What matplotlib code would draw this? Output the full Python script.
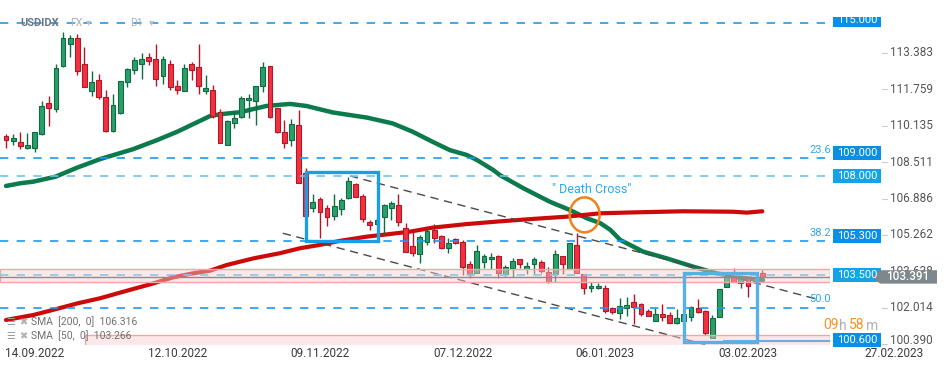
import numpy as np
import matplotlib
matplotlib.use("Agg")
import matplotlib.pyplot as plt
import matplotlib.transforms as mtransforms
from matplotlib.patches import Rectangle, Ellipse, Polygon

plt.rcParams['font.family'] = ['Roboto', 'DejaVu Sans']

# daily candles USDIDX, 08.09.2022 -> 24.02.2023
o = [109.70, 109.47, 109.43, 109.16, 109.14, 109.75, 111.15, 110.88, 112.81, 113.77,
     114.05, 112.91, 111.69, 112.16, 111.43, 109.89, 110.72, 112.08, 112.64, 112.91,
     113.19, 113.11, 112.35, 112.88, 111.93, 111.69, 112.87, 112.78, 111.69, 111.74,
     110.76, 109.29, 110.27, 110.54, 111.27, 111.22, 111.90, 112.82, 110.92, 109.88,
     109.52, 110.17, 108.02, 106.45, 106.87, 106.45, 106.12, 106.41, 106.90, 107.52,
     106.99, 105.83, 105.77, 106.05, 106.48, 106.59, 105.56, 104.77, 104.41, 104.96,
     105.49, 105.22, 104.67, 105.10, 104.94, 103.95, 103.55, 104.04, 104.18, 104.34,
     103.52, 103.78, 104.18, 103.75, 103.96, 104.04, 103.62, 103.52, 104.34, 103.75,
     104.82, 103.51, 102.88, 102.88, 102.88, 101.99, 101.77, 101.99, 102.26, 102.18,
     101.87, 101.44, 101.74, 101.69, 101.32, 101.44, 101.62, 101.99, 101.88, 100.65,
     101.59, 102.96, 103.40, 103.11, 103.33, 103.21, 103.55]
h = [109.79, 109.79, 109.88, 109.82, 109.88, 111.24, 111.48, 112.91, 114.33, 114.20,
     114.23, 113.65, 112.57, 112.43, 111.75, 111.56, 112.15, 112.72, 113.19, 113.38,
     113.38, 113.77, 113.23, 113.06, 112.16, 112.91, 112.99, 113.77, 112.39, 111.96,
     110.88, 110.38, 110.80, 111.45, 111.56, 111.92, 112.99, 112.82, 110.92, 110.39,
     110.42, 110.84, 108.24, 107.08, 106.94, 106.60, 107.09, 106.90, 107.86, 107.57,
     107.08, 105.93, 106.02, 106.65, 106.78, 107.09, 105.78, 105.49, 105.26, 105.53,
     105.75, 105.26, 105.11, 105.13, 105.04, 104.12, 104.80, 104.40, 104.45, 104.37,
     103.92, 104.22, 104.18, 104.06, 104.27, 104.15, 103.85, 104.59, 104.34, 104.89,
     105.34, 103.51, 103.18, 103.11, 103.03, 102.06, 102.46, 102.48, 102.62, 102.24,
     101.95, 101.99, 102.17, 101.84, 101.96, 102.10, 102.10, 102.41, 101.92, 101.69,
     102.84, 103.48, 103.78, 103.40, 103.33, 103.39, 103.70]
l = [109.14, 109.27, 109.11, 109.11, 108.96, 109.73, 110.12, 110.77, 112.76, 113.21,
     112.39, 111.86, 111.48, 111.33, 109.86, 109.86, 110.65, 111.86, 112.46, 112.24,
     112.84, 111.93, 112.01, 111.71, 111.54, 111.69, 112.16, 111.56, 111.57, 110.50,
     109.37, 109.29, 110.04, 110.50, 110.50, 110.17, 111.63, 110.50, 109.82, 109.14,
     109.22, 107.57, 106.12, 106.30, 105.14, 105.66, 105.93, 106.16, 106.87, 106.94,
     105.86, 105.49, 105.71, 105.26, 105.93, 105.68, 104.52, 104.33, 104.03, 104.82,
     104.89, 104.62, 104.45, 104.85, 103.48, 103.36, 103.55, 103.80, 103.75, 103.36,
     103.43, 103.40, 103.78, 103.52, 103.52, 103.55, 103.11, 103.18, 103.52, 103.75,
     103.58, 102.63, 102.73, 102.84, 101.79, 101.72, 101.51, 101.66, 101.28, 101.66,
     101.66, 101.42, 101.44, 101.32, 101.29, 101.44, 101.42, 101.79, 100.80, 100.65,
     101.59, 102.96, 103.18, 102.88, 102.51, 103.12, 103.37]
c = [109.49, 109.58, 109.25, 109.26, 109.84, 111.01, 110.92, 112.73, 114.05, 114.07,
     112.57, 111.86, 112.11, 111.40, 109.89, 111.06, 112.15, 112.66, 113.06, 113.11,
     113.03, 112.24, 113.11, 111.86, 111.74, 112.73, 112.64, 111.90, 111.84, 110.57,
     109.37, 110.33, 110.47, 111.39, 111.37, 111.92, 112.78, 110.54, 109.86, 109.38,
     110.20, 107.60, 106.12, 106.72, 106.30, 106.05, 106.54, 106.82, 107.67, 106.97,
     105.96, 105.70, 105.92, 106.59, 106.68, 105.86, 104.52, 104.45, 105.19, 105.44,
     105.11, 104.70, 104.89, 104.89, 103.85, 103.52, 104.55, 104.34, 104.27, 103.55,
     103.85, 104.10, 103.96, 103.88, 104.18, 103.66, 103.18, 104.40, 103.95, 104.89,
     103.58, 102.88, 102.99, 102.99, 101.88, 101.84, 102.09, 102.14, 102.06, 101.74,
     101.66, 101.74, 101.59, 101.35, 101.55, 101.74, 102.06, 101.84, 100.88, 101.55,
     102.84, 103.40, 103.18, 103.33, 103.00, 103.34, 103.39]

# moving averages (x = candle index)
sma50_x = [0, 2.0, 3.8, 6.9, 10.0, 13.2, 17.8, 21.2, 24.0, 28.6, 30.0, 32.8, 36.5, 39.8,
           42.1, 45.8, 50.6, 54.2, 57.0, 59.8, 62.2, 64.6, 66.0, 68.3, 69.2, 72.5, 76.2,
           79.0, 81.4, 83.3, 84.7, 86.1, 89.3, 92.6, 96.3, 99.6, 102.9, 106.1]
sma50_y = [107.45, 107.57, 107.64, 107.86, 108.27, 108.65, 109.09, 109.50, 109.87, 110.57,
           110.65, 110.74, 111.02, 111.11, 111.02, 110.73, 110.50, 110.24, 109.87, 109.42,
           109.05, 108.83, 108.61, 108.16, 107.94, 107.35, 106.75, 106.38, 106.01, 105.79,
           105.49, 105.04, 104.52, 104.22, 103.85, 103.55, 103.36, 103.25]
sma200_x = [0, 3.8, 6.6, 10.0, 13.2, 17.0, 20.2, 23.4, 26.2, 28.6, 30.9, 34.7, 38.4, 41.2,
            44.0, 46.8, 50.6, 53.4, 56.6, 59.8, 64.6, 69.2, 73.9, 78.6, 83.3, 87.9, 94.9,
            101.9, 103.8, 106.0]
sma200_y = [101.47, 101.69, 101.92, 102.21, 102.44, 102.78, 103.06, 103.37, 103.55, 103.67,
            103.92, 104.22, 104.45, 104.67, 104.82, 105.00, 105.19, 105.29, 105.41, 105.59,
            105.75, 105.87, 105.98, 106.08, 106.23, 106.27, 106.32, 106.30, 106.26, 106.32]

# horizontal levels
level_y = [114.72, 108.70, 107.90, 104.99, 103.48, 101.99]
level_col = ['#1e9be8', '#1e9be8', '#6cc2f5', '#1e9be8', '#8cc4ea', '#1e9be8']
box_text = ['115.000', '109.000', '108.000', '105.300', '103.500', '100.600']
box_y = [114.86, 108.92, 107.89, 105.20, 103.46, 100.58]
box_col = ['#0a8fe6', '#0a8fe6', '#13a3ea', '#0a8fe6', '#13a3ea', '#0a8fe6']
fib_text = ['23.6', '38.2', '50.0']
fib_px = [150, 233, 299]

yticks = [113.383, 111.759, 110.135, 108.511, 106.886, 105.262, 103.638, 102.014, 100.390]
date_idx = [4, 24, 44, 64, 84, 104, 124.5]
date_lab = ['14.09.2022', '12.10.2022', '09.11.2022', '07.12.2022',
            '06.01.2023', '03.02.2023', '27.02.2023']
last_price = 103.391

W, H = 949, 370
fig = plt.figure(figsize=(9.49, 3.70), dpi=100)
ax = fig.add_axes([0, 25 / H, 830 / W, 345 / H])
ax.set_xlim(-0.84, 115.49)
ax.set_ylim(100.353, 115.748)
ax.axis('off')
tr = ax.get_yaxis_transform()


def fx(px):
    return px / W


def fy(py):
    return 1 - py / H


# candles
o, h, l, c = map(np.array, (o, h, l, c))
x = np.arange(len(o))
up = c >= o
body = np.maximum(np.abs(c - o), 0.05)
bot = np.minimum(o, c)
for m, fc, ec in [(up, '#2b9e6a', '#0f6b42'), (~up, '#f2313f', '#b0182a')]:
    ax.vlines(x[m], l[m], h[m], color=ec, lw=1, zorder=3)
    ax.bar(x[m], body[m], bottom=bot[m], width=0.68, color=fc, edgecolor=ec,
           lw=0.8, zorder=4)

ax.plot(sma50_x, sma50_y, color='#0b7a4c', lw=3.2, solid_capstyle='round', zorder=2)
ax.plot(sma200_x, sma200_y, color='#cc0a0a', lw=3.0, solid_capstyle='round', zorder=2)

# zones
ax.axhspan(103.15, 103.73, fc=(0.98, 0.80, 0.80, 0.45), ec='#f2a6a6', lw=1, zorder=6)
ax.axhspan(100.20, 100.80, xmin=85 / 830, fc=(0.98, 0.80, 0.80, 0.45), ec='#f2a6a6',
           lw=1, zorder=6)

for yv, col in zip(level_y, level_col):
    ax.hlines(yv, -0.84, 115.49, colors=col, linestyles=(0, (5, 5)), lw=1.2, zorder=7)
ax.hlines(100.53, 100.5, 115.49, colors='#6aaee6', lw=1.5, zorder=7)
ax.axhline(last_price, color='#8c8c8c', lw=1, zorder=7)

# trend channel
ax.plot([48.2, 113.4], [107.90, 102.42], color='#4a4a4a', lw=1, ls=(0, (6, 4)), zorder=5)
ax.plot([38.8, 98.0], [105.34, 100.37], color='#4a4a4a', lw=1, ls=(0, (6, 4)), zorder=5)

ax.add_patch(Rectangle((42.0, 104.99), 10.1, 3.07, fill=False, ec='#1a9fe6', lw=2.4, zorder=8))
ax.add_patch(Rectangle((95.0, 100.50), 10.2, 3.08, fill=False, ec='#58b1e6', lw=2.4, zorder=8))
ax.add_patch(Ellipse((81.1, 106.16), 4.2, 1.56, fill=False, ec='#f0821e', lw=1.8, zorder=9))
ax.text(82.1, 107.27, '" Death Cross"', color='#2aaaf0', fontsize=9, ha='center',
        va='center', zorder=9)

# right price scale (lowest label sits a few px higher, kept inside the pane)
for v in yticks:
    ttr = tr
    if v == yticks[-1]:
        ttr = mtransforms.offset_copy(tr, fig=fig, x=0, y=4, units='dots')
    ax.text(890 / 830, v, f'{v:.3f}', transform=ttr, ha='left', va='center', fontsize=8.5,
            color='#555555', clip_on=False, zorder=1)
    ax.plot([882 / 830, 887 / 830], [v, v], transform=tr, color='#cccccc', lw=0.8,
            clip_on=False, zorder=1)
for t, yv, col in zip(box_text, box_y, box_col):
    ax.add_patch(Rectangle((833 / 830, yv - 0.31), 48 / 830, 0.62, transform=tr, fc=col,
                           ec='none', clip_on=False, zorder=10))
    ax.text(857 / 830, yv, t, transform=tr, color='white', fontsize=8, ha='center',
            va='center', clip_on=False, zorder=11)
ax.add_patch(Polygon([(873 / 830, last_price), (880 / 830, last_price + 0.30),
                      (937 / 830, last_price + 0.30), (937 / 830, last_price - 0.30),
                      (880 / 830, last_price - 0.30)], closed=True, transform=tr,
                     fc='#7c888c', ec='none', clip_on=False, zorder=10))
ax.text(908 / 830, last_price, f'{last_price:.3f}', transform=tr, color='white',
        fontsize=8.5, fontweight='medium', ha='center', va='center', clip_on=False, zorder=11)
fig.patches.append(Rectangle((fx(830), fy(17)), 60 / W, 17 / H, transform=fig.transFigure,
                             fc='white', ec='none', zorder=20))

for t, py in zip(fib_text, fib_px):
    fig.text(fx(831), fy(py), t, color='#29aaf0', fontsize=8, ha='right', va='center')

# countdown
fig.text(fx(823), fy(325), '09', color='#f7931e', fontsize=10, va='center')
fig.text(fx(839), fy(326), 'h', color='#b0b0b0', fontsize=10, va='center')
fig.text(fx(849), fy(325), '58', color='#f7931e', fontsize=10, va='center')
fig.text(fx(866), fy(326), 'm', color='#b0b0b0', fontsize=10, va='center')

# dates
for xi, t in zip(date_idx, date_lab):
    ax.text(xi, -0.026, t, transform=ax.get_xaxis_transform(), ha='center', va='center',
            fontsize=8.5, color='#3a3a3a', clip_on=False)

# indicator legend
for py, t in [(322, 'SMA  [200,  0]  106.316'), (336, 'SMA  [50,  0]  103.266')]:
    fig.text(fx(6), fy(py), '\u2630', color='#9a9a9a', fontsize=7, va='center')
    fig.text(fx(19), fy(py), '\u2716', color='#b0b0b0', fontsize=7, va='center')
    fig.text(fx(31), fy(py), t, color='#707070', fontsize=7.5, va='center')

# title
fig.text(fx(20), fy(23), 'USDIDX', color='#66778a', fontsize=8, fontweight='bold', va='center')
fig.text(fx(70), fy(23), 'FX', color='#a8b0ba', fontsize=7.5, va='center')
fig.text(fx(86), fy(22), '\u25be', color='#b8c0c8', fontsize=7.5, va='center')
fig.text(fx(130), fy(23), 'D1', color='#a8b0ba', fontsize=7.5, va='center')
fig.text(fx(149), fy(22), '\u25be', color='#b8c0c8', fontsize=7.5, va='center')

fig.savefig('out.png', dpi=100)
